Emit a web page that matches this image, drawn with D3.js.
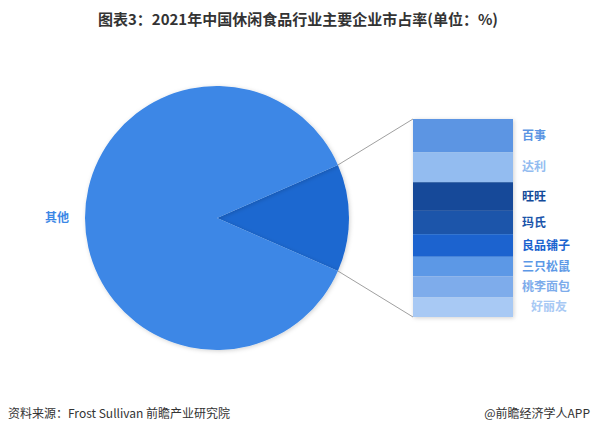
<!DOCTYPE html>
<html>
<head>
<meta charset="utf-8">
<script src="https://cdn.jsdelivr.net/npm/d3@7"></script>
<style>
body { margin: 0; background: #fff; }
svg { display: block; font-family: "Noto Sans CJK SC", "Noto Sans", sans-serif; }
</style>
</head>
<body>
<svg id="svg" width="596" height="435"></svg>
<script>
// 市场占有率 (%)
var companies = ['百事', '达利', '旺旺', '玛氏', '良品铺子', '三只松鼠', '桃李面包', '好丽友'];
var shares = [2.2, 2.0, 1.9, 1.55, 1.5, 1.3, 1.4, 1.3];
var otherName = '其他';
var colors = ['#5b95e3', '#93bcf0', '#134a99', '#1a54aa', '#1a64cf', '#5c98e6', '#7eaceb', '#a8c9f4'];

var svg = d3.select('#svg');

var total = d3.sum(shares);
var pieData = [{name: 'top', value: total}, {name: otherName, value: 100 - total}];

var cx = 217, cy = 218, r = 132;
var bar = {x: 413, w: 100, top: 119, bottom: 317};

// 标题
svg.append('text')
  .attr('x', 298).attr('y', 25)
  .attr('text-anchor', 'middle')
  .attr('font-size', 15).attr('font-weight', 'bold')
  .attr('fill', '#333')
  .text('图表3：2021年中国休闲食品行业主要企业市占率(单位：%)');

// pie
var smallAngle = total / 100 * 2 * Math.PI;
var pie = d3.pie().value(function(d) { return d.value; }).sort(null)
  .startAngle(Math.PI / 2 - smallAngle / 2)
  .endAngle(Math.PI / 2 - smallAngle / 2 + 2 * Math.PI);
var arc = d3.arc().innerRadius(0).outerRadius(r);
var arcs = pie(pieData);

var defs = svg.append('defs');
var f = defs.append('filter').attr('id', 'shadow').attr('x', '-10%').attr('y', '-10%').attr('width', '120%').attr('height', '120%');
f.append('feDropShadow').attr('dx', 1).attr('dy', 1).attr('stdDeviation', 2).attr('flood-color', '#000').attr('flood-opacity', 0.18);

var pieG = svg.append('g').attr('transform', 'translate(' + cx + ',' + cy + ')');
pieG.selectAll('path').data(arcs).enter()
  .append('path')
  .attr('d', arc)
  .attr('fill', function(d, i) { return i === 0 ? '#1b67d0' : '#3c87e6'; })
  .attr('filter', 'url(#shadow)');

// 连接线
var a0 = arcs[0].startAngle, a1 = arcs[0].endAngle;
var p0 = [cx + r * Math.sin(a0), cy - r * Math.cos(a0)];
var p1 = [cx + r * Math.sin(a1), cy - r * Math.cos(a1)];
svg.append('line')
  .attr('x1', p0[0]).attr('y1', p0[1]).attr('x2', bar.x).attr('y2', bar.top)
  .attr('stroke', '#a0a0a0').attr('stroke-width', 1);
svg.append('line')
  .attr('x1', p1[0]).attr('y1', p1[1]).attr('x2', bar.x).attr('y2', bar.bottom)
  .attr('stroke', '#a0a0a0').attr('stroke-width', 1);

// 堆叠条
var stackData = [];
var acc = 0;
companies.forEach(function(c, i) {
  stackData.push({name: c, v0: acc, v1: acc + shares[i], color: colors[i]});
  acc += shares[i];
});
var yScale = d3.scaleLinear().domain([0, total]).range([bar.top, bar.bottom]);

var barG = svg.append('g').attr('filter', 'url(#shadow)');
barG.selectAll('rect').data(stackData).enter()
  .append('rect')
  .attr('x', bar.x)
  .attr('y', function(d) { return yScale(d.v0); })
  .attr('width', bar.w)
  .attr('height', function(d) { return yScale(d.v1) - yScale(d.v0); })
  .attr('fill', function(d) { return d.color; });

svg.selectAll('.lbl').data(stackData).enter()
  .append('text')
  .attr('class', 'lbl')
  .attr('x', function(d, i) { return i === 7 ? 531 : 522; })
  .attr('y', function(d) { return (yScale(d.v0) + yScale(d.v1)) / 2; })
  .attr('dy', '0.35em')
  .attr('font-size', 12).attr('font-weight', 'bold')
  .attr('fill', function(d) { return d.color; })
  .text(function(d) { return d.name; });

svg.append('text')
  .attr('x', 45).attr('y', 218).attr('dy', '0.35em')
  .attr('font-size', 12).attr('font-weight', 'bold')
  .attr('fill', '#3c87e6')
  .text(otherName);

// 来源
svg.append('text')
  .attr('x', 8).attr('y', 418)
  .attr('font-size', 12).attr('fill', '#333')
  .text('资料来源：Frost Sullivan 前瞻产业研究院');
svg.append('text')
  .attr('x', 590).attr('y', 418)
  .attr('text-anchor', 'end')
  .attr('font-size', 12).attr('fill', '#333')
  .text('@前瞻经济学人APP');
</script>
</body>
</html>
